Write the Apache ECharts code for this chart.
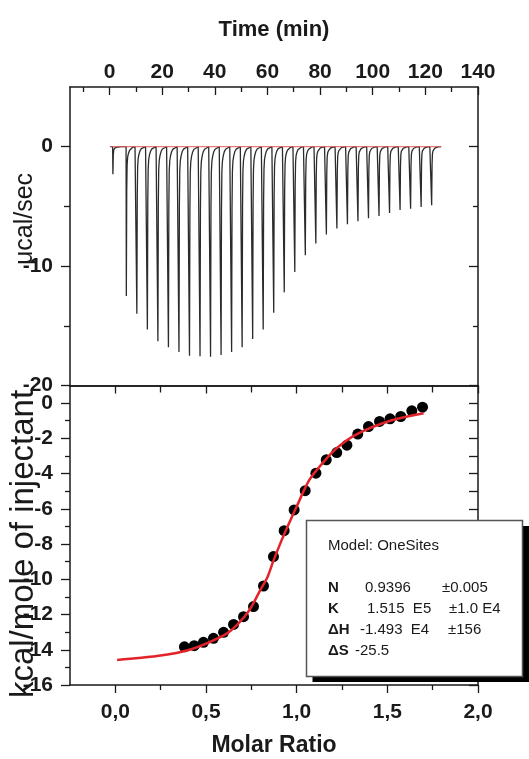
<!DOCTYPE html>
<html>
<head>
<meta charset="utf-8">
<script src="https://cdn.jsdelivr.net/npm/echarts@6/dist/echarts.min.js"></script>
<style>
  html, body { margin: 0; padding: 0; background: #fff; }
  #itcChart { width: 529px; height: 759px; }
</style>
</head>
<body>
<div id="itcChart"></div>
<script>
// injection times (min) and peak heights (ucal/sec) of the raw thermogram
const injectionTimes = [1.2, 6.3, 10.3, 14.3, 18.3, 22.3, 26.3, 30.3, 34.3, 38.3, 42.3,
  46.3, 50.3, 54.3, 58.3, 62.3, 66.3, 70.3, 74.3, 78.3, 82.3, 86.3, 90.3, 94.3, 98.3,
  102.3, 106.3, 110.3, 114.3, 118.3, 122.3];
const peakHeights = [-2.3, -12.5, -14.0, -15.3, -16.3, -16.8, -17.2, -17.5, -17.55, -17.6,
  -17.45, -17.2, -16.8, -16.1, -15.3, -13.9, -12.2, -10.5, -9.1, -8.1, -7.35, -6.85,
  -6.5, -6.25, -6.0, -5.8, -5.55, -5.3, -5.2, -5.05, -4.9];
// shape of one peak: minutes after injection / share of peak height
const peakOffsets = [0, 0.1, 0.25, 0.4, 0.6, 0.9, 1.3, 1.8, 2.5, 3.4];
const peakFractions = [0, 1, 0.3, 0.12, 0.07, 0.045, 0.025, 0.012, 0.004, 0];
const baselineRange = [0.3, 126];

// integrated heats
const molarRatio = [0.381, 0.435, 0.486, 0.541, 0.597, 0.652, 0.707, 0.762, 0.817, 0.872,
  0.931, 0.986, 1.047, 1.106, 1.163, 1.221, 1.277, 1.337, 1.396, 1.457, 1.515, 1.574,
  1.635, 1.694];
const heatPerMole = [-13.83, -13.77, -13.58, -13.35, -13.01, -12.56, -12.12, -11.55, -10.38,
  -8.71, -7.24, -6.06, -4.97, -3.98, -3.22, -2.81, -2.39, -1.76, -1.33, -1.04, -0.89,
  -0.76, -0.44, -0.23];

// one-site fit curve
const fitMolarRatio = [0.01, 0.23, 0.41, 0.6, 0.67, 0.74, 0.8, 0.84, 0.87, 0.91, 0.95, 1.0,
  1.07, 1.15, 1.22, 1.33, 1.52, 1.7];
const fitHeat = [-14.58, -14.36, -14.0, -13.17, -12.6, -11.74, -10.6, -9.85, -9.0, -7.96,
  -7.01, -5.87, -4.36, -3.32, -2.56, -1.77, -0.99, -0.57];

// fit results
const modelName = "Model: OneSites";
const paramNames = ["N", "K", "\u0394H", "\u0394S"];
const paramValues = ["0.9396", "1.515  E5", "-1.493  E4", "-25.5"];
const paramErrors = ["\u00b10.005", "\u00b11.0 E4", "\u00b1156", ""];

// ticks
const timeMajor = [0, 20, 40, 60, 80, 100, 120, 140];
const timeMinor = [-10, 10, 30, 50, 70, 90, 110, 130];
const powerMajor = [0, -10, -20];
const powerMinor = [-5, -15];
const molarMajor = [0, 0.5, 1.0, 1.5, 2.0];
const molarMinor = [0.25, 0.75, 1.25, 1.75];
const heatMajor = [0, -2, -4, -6, -8, -10, -12, -14, -16];
const heatMinor = [-1, -3, -5, -7, -9, -11, -13, -15];
const heatAll = [0, -1, -2, -3, -4, -5, -6, -7, -8, -9, -10, -11, -12, -13, -14, -15, -16];

const FONT = "Liberation Sans, Arial, sans-serif";
const INK = "#1a1a1a";

let trace = [[baselineRange[0], 0]];
injectionTimes.forEach(function (t, i) {
  peakOffsets.forEach(function (o, j) {
    trace.push([t + o, peakHeights[i] * peakFractions[j]]);
  });
});
trace.push([baselineRange[1], 0]);

let points = molarRatio.map(function (x, i) { return [x, heatPerMole[i]]; });
let fit = fitMolarRatio.map(function (x, i) { return [x, fitHeat[i]]; });

const tickLabel = { fontFamily: FONT, fontSize: 21, fontWeight: "bold", color: INK };

function axis(o) {
  // plain value axis, everything off unless asked for
  return Object.assign({
    type: "value",
    axisLine: { show: false, onZero: false },
    axisTick: { show: false },
    axisLabel: { show: false },
    splitLine: { show: false }
  }, o);
}
function line(show) {
  return { show: show, onZero: false, lineStyle: { color: INK, width: 1.5 } };
}
function ticks(values, len, inside) {
  return { show: true, inside: inside, length: len, customValues: values,
    lineStyle: { color: INK, width: 1.3 } };
}

const topRect = { left: 70, top: 87, width: 408, height: 298.5 };
const bottomRect = { left: 70, top: 385.5, width: 408, height: 299.5 };

let option = {
  animation: false,
  backgroundColor: "#fff",
  grid: [topRect, topRect, bottomRect, bottomRect],
  xAxis: [
    axis({ gridIndex: 0, position: "top", min: -15, max: 140, axisLine: line(true),
      axisTick: ticks(timeMajor, 8, true),
      axisLabel: Object.assign({ show: true, margin: 4, customValues: timeMajor }, tickLabel),
      name: "Time (min)", nameLocation: "middle", nameGap: 46,
      nameTextStyle: { fontFamily: FONT, fontSize: 22, fontWeight: "bold", color: INK } }),
    axis({ gridIndex: 0, position: "bottom", min: -15, max: 140, axisLine: line(true) }),
    axis({ gridIndex: 1, position: "top", min: -15, max: 140, axisTick: ticks(timeMinor, 5, true) }),
    axis({ gridIndex: 2, position: "bottom", min: -0.25, max: 2.0, axisLine: line(true),
      axisTick: ticks(molarMajor, 8, false),
      axisLabel: Object.assign({ show: true, margin: 17, customValues: molarMajor,
        formatter: function (v) { return v.toFixed(1).replace(".", ","); } }, tickLabel),
      name: "Molar Ratio", nameLocation: "middle", nameGap: 49,
      nameTextStyle: { fontFamily: FONT, fontSize: 23, fontWeight: "bold", color: INK } }),
    axis({ gridIndex: 2, position: "top", min: -0.25, max: 2.0, axisLine: line(true),
      axisTick: ticks(molarMajor, 8, true) }),
    axis({ gridIndex: 3, position: "bottom", min: -0.25, max: 2.0, axisTick: ticks(molarMinor, 5, false) }),
    axis({ gridIndex: 3, position: "top", min: -0.25, max: 2.0, axisTick: ticks(molarMinor, 7, true) })
  ],
  yAxis: [
    axis({ gridIndex: 0, position: "left", min: -20, max: 5, axisLine: line(true),
      axisTick: ticks(powerMajor, 9, false),
      axisLabel: Object.assign({ show: true, margin: 17, customValues: powerMajor }, tickLabel) }),
    axis({ gridIndex: 0, position: "right", min: -20, max: 5, axisLine: line(true),
      axisTick: ticks(powerMajor, 9, true) }),
    axis({ gridIndex: 1, position: "left", min: -20, max: 5, axisTick: ticks(powerMinor, 6, false) }),
    axis({ gridIndex: 1, position: "right", min: -20, max: 5, axisTick: ticks(powerMinor, 5, true) }),
    axis({ gridIndex: 2, position: "left", min: -16, max: 1, axisLine: line(true),
      axisTick: ticks(heatMajor, 9, false),
      axisLabel: Object.assign({ show: true, margin: 17, customValues: heatMajor }, tickLabel) }),
    axis({ gridIndex: 2, position: "right", min: -16, max: 1, axisLine: line(true),
      axisTick: ticks(heatAll, 9, true) }),
    axis({ gridIndex: 3, position: "left", min: -16, max: 1, axisTick: ticks(heatMinor, 5, false) })
  ],
  series: [
    {
      name: "raw", type: "line", xAxisIndex: 0, yAxisIndex: 0, data: trace,
      showSymbol: false, symbol: "none",
      lineStyle: { color: "#2b2b2b", width: 1.3 }
    },
    {
      name: "baseline", type: "line", xAxisIndex: 0, yAxisIndex: 0,
      data: [[baselineRange[0], 0], [baselineRange[1], 0]],
      showSymbol: false, symbol: "none",
      lineStyle: { color: "#e05a5a", width: 1 }
    },
    {
      name: "heats", type: "scatter", xAxisIndex: 3, yAxisIndex: 4, data: points,
      symbol: "circle", symbolSize: 11, itemStyle: { color: "#000", opacity: 1 }
    },
    {
      name: "fit", type: "line", xAxisIndex: 3, yAxisIndex: 4, data: fit,
      smooth: 0.3, showSymbol: false, symbol: "none",
      lineStyle: { color: "#e3232a", width: 2.5 }
    }
  ]
};

// y axis titles and the fit result box
let graphics = [
  { type: "text", x: 25, y: 219, rotation: Math.PI / 2, z: 50,
    style: { text: "\u03bccal/sec", x: 0, y: 0, align: "center", verticalAlign: "middle",
      font: "25px " + FONT, fill: INK } },
  { type: "text", x: 24, y: 544, rotation: Math.PI / 2, z: 50,
    style: { text: "kcal/mole of injectant", x: 0, y: 0, align: "center", verticalAlign: "middle",
      font: "33px " + FONT, fill: INK } },
  { type: "rect", z: 60, shape: { x: 312.5, y: 526, width: 217, height: 156 },
    style: { fill: "#000" } },
  { type: "rect", z: 61, shape: { x: 306.5, y: 520.5, width: 216, height: 156 },
    style: { fill: "#fff", stroke: "#555", lineWidth: 1.5 } },
  { type: "text", z: 62, x: 328, y: 546,
    style: { text: modelName, verticalAlign: "middle", font: "15px " + FONT, fill: INK } }
];
const rowY = [587.5, 609, 629.5, 650.5];
const valueX = [365, 367, 360, 355];
const errorX = [442, 449, 448, 448];
paramNames.forEach(function (n, i) {
  graphics.push({ type: "text", z: 62, x: 328, y: rowY[i],
    style: { text: n, verticalAlign: "middle", font: "bold 15px " + FONT, fill: INK } });
  graphics.push({ type: "text", z: 62, x: valueX[i], y: rowY[i],
    style: { text: paramValues[i], verticalAlign: "middle", font: "15px " + FONT, fill: INK } });
  graphics.push({ type: "text", z: 62, x: errorX[i], y: rowY[i],
    style: { text: paramErrors[i], verticalAlign: "middle", font: "15px " + FONT, fill: INK } });
});
option.graphic = graphics;

let myChart = echarts.init(document.getElementById("itcChart"));
myChart.setOption(option);
</script>
</body>
</html>
